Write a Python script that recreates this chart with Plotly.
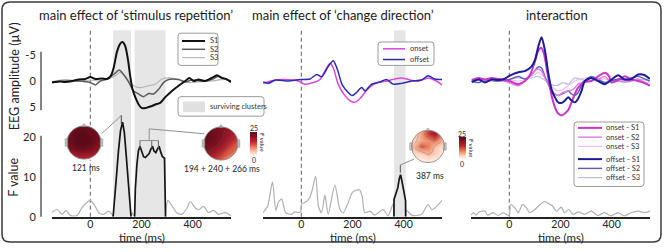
import math
import plotly.graph_objects as go

# ================= DATA =================
panel_titles = ["main effect of ‘stimulus repetition’", "main effect of ‘change direction’", "interaction"]
time_ticks = [0, 200, 400]
time_tick_labels = ["0", "200", "400"]
erp_ticks = [-5, 0, 5]
erp_tick_labels = ["-5", "0", "5"]
f_ticks = [0, 10, 20]
f_tick_labels = ["0", "10", "20"]

# --- stimulus repetition ERPs (µV, negative up) ---
rep_names = ["S1", "S2", "S3"]
rep_s1_t = [-150, -120, -98, -70, -46, -20, 0, 20, 45, 65, 80, 91, 104, 117, 126, 137, 147, 156, 165, 178, 190, 202,
            215, 228, 241, 254, 273, 293, 319, 345, 371, 387, 404, 423, 449, 475, 495, 514, 530, 550]
rep_s1_v = [0.3, 0.1, 0.2, 0.0, -0.3, -0.4, -0.75, -0.4, -0.5, -0.4, -1.0, -2.5, -5.6, -7.2, -7.5, -6.6, -4.1, -0.9,
            1.6, 3.4, 4.6, 5.2, 5.2, 5.0, 4.8, 4.5, 4.2, 3.1, 1.9, 0.9, 0.0, -0.6, 0.0, -0.3, 0.0, -0.6, -1.1, -0.6,
            -0.4, 0.2]
rep_s2_t = [-150, -98, -46, 0, 20, 39, 65, 91, 113, 130, 150, 169, 189, 208, 228, 247, 267, 286, 306, 345, 371, 397,
            436, 475, 501, 527, 550]
rep_s2_v = [0.2, 0.0, 0.0, 0.3, 0.75, 0.0, -0.4, -1.25, -2.1, -1.25, 0.2, 1.9, 2.5, 3.0, 2.4, 2.5, 1.6, 0.3, -0.3,
            -0.3, 0.2, -0.2, 0.0, -0.3, -0.9, -0.4, 0.0]
rep_s3_t = [-150, -98, -46, 0, 39, 72, 98, 117, 137, 156, 176, 202, 228, 254, 280, 306, 345, 384, 423, 475, 527, 550]
rep_s3_v = [0.1, -0.3, 0.0, -0.2, 0.0, -0.4, -1.0, -1.7, -0.9, 0.3, 1.1, 1.25, 0.9, 0.6, -0.4, -0.6, -0.3, 0.3,
            0.2, 0.0, -0.3, 0.3]

# --- change direction ERPs ---
dir_names = ["onset", "offset"]
dir_on_t = [-149, -103, -64, -12, 14, 47, 73, 99, 112, 125, 144, 170, 190, 207, 229, 248, 275, 300, 333, 366, 392,
            424, 457, 496, 528, 550]
dir_on_v = [0.45, -0.2, -0.3, 0.0, 0.6, 0.3, -0.3, -2.5, -3.4, -2.5, 0.6, 2.8, 3.75, 4.1, 3.4, 2.2, 0.9, 0.3, 0.0,
            -0.4, -0.6, -0.2, 0.0, -0.6, 0.0, 0.75]
dir_off_t = [-149, -129, -100, -51, -5, 34, 60, 79, 105, 125, 141, 160, 183, 199, 216, 236, 249, 275, 307, 333, 359,
             392, 431, 470, 496, 522, 550]
dir_off_v = [0.2, 0.45, -0.2, 0.0, -0.3, -0.4, -1.25, -0.8, -2.8, -3.9, -2.2, 0.75, 2.2, 2.8, 2.2, 1.25, 1.9, 0.6,
             0.2, -0.3, 0.6, 0.45, 0.0, -0.2, -1.0, -0.4, -0.3]

# --- interaction ERPs ---
int_names = ["onset - S1", "onset - S2", "onset - S3", "offset - S1", "offset - S2", "offset - S3"]
int_on1_t = [-147, -120, -95, -70, -43, 0, 35, 61, 80, 100, 113, 124, 135, 150, 165, 178, 191, 204, 217, 230, 243,
             256, 269, 295, 321, 347, 373, 390, 400, 425, 451, 478, 504, 530, 549]
int_on1_v = [-0.2, -0.6, -0.3, -0.6, -0.4, 0.0, 0.6, 0.0, -1.1, -3.75, -5.8, -6.4, -5.3, -1.25, 2.8, 5.0, 6.25,
             6.6, 6.25, 5.6, 4.1, 2.5, 1.25, 0.2, 0.0, -0.9, -1.6, -0.9, 0.3, -0.2, -0.9, -0.3, 0.0, 0.45, 0.9]
int_on2_t = [-147, -120, -95, -43, 0, 35, 61, 87, 110, 126, 145, 165, 178, 191, 210, 230, 250, 269, 295, 321, 347,
             373, 400, 425, 451, 478, 504, 530, 549]
int_on2_v = [0.0, -0.4, 0.0, -0.3, 0.3, 0.9, 0.0, -1.25, -2.3, -1.9, 0.0, 1.9, 2.5, 2.8, 2.2, 1.9, 1.6, 0.6, 0.0,
             -0.6, -0.3, -0.9, 0.3, 0.0, 0.2, 0.0, -0.4, 0.3, 0.8]
int_on3_t = [-147, -95, -43, 0, 35, 61, 87, 113, 130, 150, 170, 191, 210, 230, 256, 280, 310, 340, 373, 400, 430,
             460, 500, 530, 549]
int_on3_v = [-0.3, 0.0, -0.4, -0.2, 0.0, -0.3, -0.9, -1.6, -1.1, 0.0, 1.25, 1.9, 1.6, 0.9, 0.0, -0.4, -0.6, -0.2,
             -0.4, 0.0, -0.3, -0.4, -0.2, 0.2, 0.3]
int_off1_t = [-147, -120, -95, -70, -43, -20, 0, 35, 61, 87, 100, 113, 126, 139, 152, 165, 178, 191, 205, 217, 230,
              243, 256, 269, 282, 295, 321, 347, 373, 400, 425, 451, 478, 504, 530, 549]
int_off1_v = [0.2, -0.3, 0.3, -0.3, -0.2, -0.4, -1.0, -1.7, -1.9, -2.8, -4.0, -6.6, -8.4, -5.9, -1.6, 1.6, 3.1,
              4.1, 4.2, 3.75, 3.1, 3.75, 4.1, 3.4, 1.9, 0.0, -0.6, 0.0, 0.6, -0.3, -1.1, -0.3, -0.4, -1.25, -1.1,
              -0.4]
int_off2_t = [-147, -120, -95, -43, 0, 35, 61, 87, 113, 126, 139, 152, 165, 178, 191, 205, 217, 230, 243, 256, 269,
              282, 295, 321, 347, 373, 400, 425, 451, 478, 504, 530, 549]
int_off2_v = [0.0, 0.3, -0.2, 0.0, -0.3, -0.9, -0.4, -1.25, -2.7, -2.5, -0.9, 0.6, 1.9, 2.5, 2.8, 2.5, 2.2, 1.9,
              2.5, 2.8, 2.2, 0.9, 0.0, -0.9, -0.3, 0.3, 0.0, -0.4, -0.3, -0.6, -0.9, -0.4, 0.0]
int_off3_t = [-147, -95, -43, 0, 35, 61, 87, 113, 135, 160, 185, 210, 230, 256, 280, 310, 340, 373, 400, 430, 460,
              500, 530, 549]
int_off3_v = [0.0, -0.2, 0.0, -0.3, -0.6, -0.4, -0.6, -0.9, -0.3, 0.6, 0.9, 0.3, 0.6, -0.6, -0.3, 0.0, -0.4, 0.2,
              -0.3, -0.2, 0.0, -0.3, -0.2, 0.0]

# --- F values ---
rep_f_gray_t = [-150, -130, -111, -95, -78, -52, -33, -13, 0, 17, 33, 52, 72, 89, None, 159, 163, 167, 173, None,
                294, 303, 316, 338, 358, 378, 391, 410, 426, 443, 462, 482, 501, 527, 550]
rep_f_gray_v = [1.1, 1.8, 0.6, 1.6, 0.3, 0.3, 2.2, 3.6, 4.1, 2.8, 1.0, 0.6, 1.4, 0.2, None, 0.2, 1.0, 0.5, 0.2,
                None, 0.5, 4.1, 3.0, 1.0, 0.6, 2.2, 3.8, 2.2, 1.8, 2.6, 1.0, 1.6, 0.6, 1.0, 0.2]
rep_f_sig_t = [89, 95, 102, 110, 118, 126, 133, 140, 147, 153, 159, None, 173, 176, 182, 188, 194, 200, 208, 215,
               222, 230, 236, 243, 249, 256, 262, 269, 275, 282, 290, 293, 294]
rep_f_sig_v = [0, 4, 10, 16.5, 21.5, 23.6, 21, 15.5, 9.5, 4.5, 0, None, 0, 7, 13, 16.5, 17.6, 16.4, 15, 14.8,
               15.2, 15.8, 16.8, 17.6, 16.4, 16, 16.8, 17.6, 16.2, 15, 14.6, 6, 0]
dir_f_gray_t = [-150, -132, -113, -100, -90, -77, -61, -38, -25, -12, -2, 1, 20, 33, 42, 56, 67, 79, 92, 105, 131,
                151, 164, 183, 199, 214, 228, 238, 248, 268, 287, 320, 339, 359, 362, None,
                408, 411, 431, 450, 470, 496, 510, 522, 550]
dir_f_gray_v = [1.0, 2.6, 8.7, 1.6, 3.6, 4.4, 1.0, 0.6, 1.2, 1.0, 1.4, 3.2, 3.8, 4.8, 6.6, 10.1, 2.6, 1.0, 5.4,
                0.6, 7.9, 1.8, 1.0, 3.5, 6.0, 6.6, 6.7, 5.0, 1.0, 1.4, 0.4, 1.8, 0.2, 3.2, 0.5, None,
                0.5, 1.6, 0.4, 0.3, 0.6, 3.0, 1.8, 2.2, 4.1]
dir_f_sig_t = [362, 362.5, 370, 377, 383, 388, 393, 398, 404, 407.5, 408]
dir_f_sig_v = [0, 4.4, 5.8, 7.2, 9.5, 10.5, 9, 7.2, 5, 4, 0]
int_f_gray_t = [-150, -140, -130, -118, -95, -85, -63, -43, -25, -1, 5, 22, 35, 51, 67, 80, 100, 119, 138, 151,
                167, 184, 203, 216, 232, 249, 270, 294, 320, 346, 372, 398, 424, 450, 476, 502, 528, 550]
int_f_gray_v = [0.4, 1.0, 0.4, 1.2, 1.4, 0.4, 1.0, 0.3, 1.0, 0.3, 3.0, 2.2, 1.0, 3.0, 2.2, 1.0, 1.8, 3.0, 3.8, 3.4,
                2.8, 1.4, 2.4, 1.0, 1.8, 0.6, 1.2, 0.6, 1.4, 0.3, 1.0, 0.2, 1.0, 0.2, 1.0, 1.4, 1.0, 1.4]

# surviving clusters (ms)
rep_clusters = [(89, 159), (173, 294)]
dir_clusters = [(362, 408)]

# topographies (F values, rows bottom -> top)
map1_times = [121]
map2_times = [194, 240, 266]
map3_times = [387]
map_labels = ["121 ms", "194 + 240 + 266 ms", "387 ms"]
map1_z = [[15, 17, 17, 16, 14], [21, 23, 23, 22, 19], [23, 25, 25, 24, 22], [23, 25, 25, 24, 23], [22, 24, 24, 23, 22]]
map2_z = [[17, 15, 12, 9, 8], [21, 19, 16, 12, 10], [23, 22, 19, 15, 12], [24, 23, 21, 18, 15], [23, 23, 21, 19, 17]]
map3_z = [[1, 1, 2, 1, 1], [3, 4, 6, 4, 2], [6, 11, 9, 5, 3], [4, 7, 8, 10, 6], [3, 7, 14, 18, 10]]
cbar_labels = ["25", "0", "F value"]

# ================= LAYOUT HELPERS =================
W, H = 666, 252
FONT = "Lato"


def PX(x):
    return x / W


def PY(y):
    return 1 - y / H


COLS = [(52, 231), (263, 442), (471, 650)]
ERP_Y = (30, 120)
F_Y = (122, 222)
T_RANGE = [-150, 550]
ERP_ZERO_PX, ERP_PX_PER = 83, 5.333
F_PX_PER = 4.1
ERP_RANGE = [(ERP_Y[1] - ERP_ZERO_PX) / ERP_PX_PER, -(ERP_ZERO_PX - ERP_Y[0]) / ERP_PX_PER]
F_RANGE = [0, (F_Y[1] - F_Y[0]) / F_PX_PER]


def t2px(col, t):
    a, b = COLS[col]
    return a + (t - T_RANGE[0]) * (b - a) / (T_RANGE[1] - T_RANGE[0])


def axn(n):
    return ("xaxis" if n == 1 else f"xaxis{n}", "yaxis" if n == 1 else f"yaxis{n}",
            "x" if n == 1 else f"x{n}", "y" if n == 1 else f"y{n}")


fig = go.Figure()
layout = dict(width=W, height=H, autosize=False, margin=dict(l=0, r=0, t=0, b=0),
              paper_bgcolor="white", plot_bgcolor="rgba(0,0,0,0)", showlegend=False,
              font=dict(family=FONT, color="#222"))
shapes, annotations = [], []

for i, (a, b) in enumerate(COLS):
    xe, ye, _, _ = axn(i + 1)
    xf, yf, _, _ = axn(i + 4)
    layout[xe] = dict(domain=[PX(a), PX(b)], range=T_RANGE, visible=False, anchor=axn(i + 1)[3])
    layout[ye] = dict(domain=[PY(ERP_Y[1]), PY(ERP_Y[0])], range=ERP_RANGE, visible=False, anchor=axn(i + 1)[2])
    layout[xf] = dict(domain=[PX(a), PX(b)], range=T_RANGE, anchor=axn(i + 4)[3], showline=True,
                      linecolor="#222", linewidth=1.6, ticks="", tickvals=time_ticks, ticktext=time_tick_labels,
                      ticklabelstandoff=-3,
                      tickfont=dict(size=10.5, color="#222", family=FONT), showgrid=False, zeroline=False)
    layout[yf] = dict(domain=[PY(F_Y[1]), PY(F_Y[0])], range=F_RANGE, visible=False, anchor=axn(i + 4)[2])

# left y axes visible
layout["yaxis"].update(visible=True, anchor="free", position=PX(41), tickvals=erp_ticks, ticktext=erp_tick_labels,
                       ticks="outside", ticklen=3, tickcolor="rgba(0,0,0,0)", showline=False, showgrid=False,
                       zeroline=False, tickfont=dict(size=11, color="#222", family=FONT))
layout["yaxis4"].update(visible=True, anchor="free", position=PX(41), tickvals=f_ticks, ticktext=f_tick_labels,
                        ticks="outside", ticklen=3, tickcolor="rgba(0,0,0,0)", showline=False, showgrid=False,
                        zeroline=False, tickfont=dict(size=11, color="#222", family=FONT))


def add_line(t, v, n, color, width, shape="spline"):
    _, _, xr, yr = axn(n)
    fig.add_trace(go.Scatter(x=t, y=v, xaxis=xr, yaxis=yr, mode="lines", hoverinfo="skip",
                             line=dict(color=color, width=width, shape=shape,
                                       **({"smoothing": 0.7} if shape == "spline" else {}))))


# ---- ERP traces ----
rep_styles = [("#111111", 2.0), ("#5c5c5c", 1.5), ("#b3b3b3", 1.1)]
add_line(rep_s3_t, rep_s3_v, 1, *rep_styles[2])
add_line(rep_s2_t, rep_s2_v, 1, *rep_styles[1])
add_line(rep_s1_t, rep_s1_v, 1, *rep_styles[0])

dir_styles = [("#dd44dd", 1.5), ("#2a2ab0", 1.5)]
add_line(dir_on_t, dir_on_v, 2, *dir_styles[0])
add_line(dir_off_t, dir_off_v, 2, *dir_styles[1])

int_styles = [("#c935c9", 2.0), ("#dd7ddd", 1.4), ("#f0bcf0", 1.2), ("#1c1c96", 2.0), ("#5a5ab8", 1.4),
              ("#bcbcdc", 1.2)]
add_line(int_off3_t, int_off3_v, 3, *int_styles[5])
add_line(int_on3_t, int_on3_v, 3, *int_styles[2])
add_line(int_off2_t, int_off2_v, 3, *int_styles[4])
add_line(int_on2_t, int_on2_v, 3, *int_styles[1])
add_line(int_on1_t, int_on1_v, 3, *int_styles[0])
add_line(int_off1_t, int_off1_v, 3, *int_styles[3])

# ---- F traces ----
GRAY_F = "#b0b0b0"
add_line(rep_f_gray_t, rep_f_gray_v, 4, GRAY_F, 1.2)
add_line(rep_f_sig_t, rep_f_sig_v, 4, "#151515", 1.7, shape="linear")
add_line(dir_f_gray_t, dir_f_gray_v, 5, GRAY_F, 1.2)
add_line(dir_f_sig_t, dir_f_sig_v, 5, "#151515", 1.7, shape="linear")
add_line(int_f_gray_t, int_f_gray_v, 6, GRAY_F, 1.2)

# ---- cluster shading & zero lines ----
for col, clusters in [(0, rep_clusters), (1, dir_clusters)]:
    xr = axn(col + 1)[2]
    for (c0, c1) in clusters:
        shapes.append(dict(type="rect", xref=xr, yref="paper", x0=c0, x1=c1, y0=PY(F_Y[1]), y1=PY(31),
                           fillcolor="#e6e6e6", line=dict(width=0), layer="below"))
for col in range(3):
    shapes.append(dict(type="line", xref=axn(col + 1)[2], yref="paper", x0=0, x1=0, y0=PY(F_Y[1]), y1=PY(31),
                       line=dict(color="#7a7a7a", width=1.2, dash="4px,3px"), layer="below"))


def line_px(x0, y0, x1, y1, color, width, dash=None):
    d = dict(color=color, width=width)
    if dash:
        d["dash"] = dash
    shapes.append(dict(type="line", xref="paper", yref="paper", x0=PX(x0), y0=PY(y0), x1=PX(x1), y1=PY(y1),
                       line=d, layer="above"))


def text_px(x, y, txt, size, color="#222", xanchor="center", angle=0):
    annotations.append(dict(xref="paper", yref="paper", x=PX(x), y=PY(y), text=txt, showarrow=False,
                            xanchor=xanchor, yanchor="middle", textangle=angle,
                            font=dict(size=size, color=color, family=FONT)))


def rrect(x0, y0, x1, y1, r, line_color="#9a9a9a", fill="white", width=1):
    pts = [("M", x0 + r, y0), ("L", x1 - r, y0), ("Q", x1, y0, x1, y0 + r), ("L", x1, y1 - r),
           ("Q", x1, y1, x1 - r, y1), ("L", x0 + r, y1), ("Q", x0, y1, x0, y1 - r), ("L", x0, y0 + r),
           ("Q", x0, y0, x0 + r, y0)]
    s = ""
    for p in pts:
        if p[0] == "Q":
            s += f"Q{PX(p[1]):.5f},{PY(p[2]):.5f} {PX(p[3]):.5f},{PY(p[4]):.5f} "
        else:
            s += f"{p[0]}{PX(p[1]):.5f},{PY(p[2]):.5f} "
    s += "Z"
    shapes.append(dict(type="path", xref="paper", yref="paper", path=s, fillcolor=fill,
                       line=dict(color=line_color, width=width), layer="above"))


# y-axis spines (left column)
line_px(41, 53, 41, 113, "#333", 1.2)
line_px(41, 139, 41, 222, "#333", 1.2)

# ---- topographic maps ----
CS = [[0, "#fff7f3"], [0.15, "#fbd3bf"], [0.3, "#f29a7a"], [0.45, "#dc5a45"], [0.6, "#b82631"],
      [0.8, "#8a1422"], [1, "#5a0a18"]]
maps = [
    (7, map1_z, (84, 146, 17), None),
    (8, map2_z, (221, 147, 17), (250, 147, 24)),
    (9, map3_z, (428, 150, 16.5), (459, 152, 22)),
]
circ = [(2 + 2.5 * math.cos(2 * math.pi * k / 72), 2 + 2.5 * math.sin(2 * math.pi * k / 72)) for k in range(72)]
for n, z, (cx, cy, r), cb in maps:
    xa, ya, xr, yr = axn(n)
    half = 3.3 * (2 * r / 5)
    layout[xa] = dict(domain=[PX(cx - half), PX(cx + half)], range=[-1.3, 5.3], visible=False, anchor=yr)
    layout[ya] = dict(domain=[PY(cy + half), PY(cy - half)], range=[-1.3, 5.3], visible=False, anchor=xr)
    hm = dict(z=z, x=[0, 1, 2, 3, 4], y=[0, 1, 2, 3, 4], xaxis=xr, yaxis=yr, zsmooth="best", colorscale=CS,
              zmin=0, zmax=25, zauto=False, hoverinfo="skip", showscale=cb is not None)
    if cb is not None:
        bx, by, blen = cb
        hm["colorbar"] = dict(x=PX(bx), xanchor="left", y=PY(by), yanchor="middle", len=blen, lenmode="pixels",
                              thickness=7, thicknessmode="pixels", xpad=0, ypad=0, outlinewidth=0,
                              showticklabels=False, ticks="")
    fig.add_trace(go.Heatmap(**hm))
    if n != 7:
        fig.add_trace(go.Contour(z=z, x=[0, 1, 2, 3, 4], y=[0, 1, 2, 3, 4], xaxis=xr, yaxis=yr,
                                 contours=dict(coloring="none", start=5, end=20, size=5), showscale=False,
                                 line=dict(color="rgba(90,90,90,0.5)", width=0.6, smoothing=1.3),
                                 hoverinfo="skip"))
    # white mask outside the head
    path = "M-0.6,-0.6 L4.6,-0.6 L4.6,4.6 L-0.6,4.6 Z M" + " L".join(f"{px_:.4f},{py_:.4f}" for px_, py_ in circ) + " Z"
    shapes.append(dict(type="path", xref=xr, yref=yr, path=path, fillcolor="white", fillrule="evenodd",
                       line=dict(width=0), layer="above"))
    # ears and nose
    for ex0, ex1 in [(-0.75, -0.4), (4.4, 4.75)]:
        shapes.append(dict(type="rect", xref=xr, yref=yr, x0=ex0, x1=ex1, y0=1.45, y1=2.55, fillcolor="#d6d6d6",
                           line=dict(color="#8a8a8a", width=0.7), layer="above"))
    shapes.append(dict(type="path", xref=xr, yref=yr, path="M1.7,4.4 L2,4.85 L2.3,4.4 Z", fillcolor="#e0e0e0",
                       line=dict(color="#8a8a8a", width=0.7), layer="above"))
    shapes.append(dict(type="circle", xref=xr, yref=yr, x0=-0.5, x1=4.5, y0=-0.5, y1=4.5,
                       line=dict(color="#8a8a8a", width=0.9), layer="above"))

# map labels
text_px(86, 172, map_labels[0], 8.5)
text_px(222, 173, map_labels[1], 8.5)
text_px(430, 180, map_labels[2], 8.5)
# colorbar labels
text_px(253.5, 131.5, cbar_labels[0], 7)
text_px(253.5, 163.5, cbar_labels[1], 7)
text_px(262.5, 146, cbar_labels[2], 6, angle=90)
text_px(462, 137, cbar_labels[0], 7)
text_px(462, 168, cbar_labels[1], 7)
text_px(471.5, 152, cbar_labels[2], 6, angle=90)

# connectors from maps to F peaks
CONN = "#8f8f8f"
p1 = t2px(0, map1_times[0])
line_px(p1, 118, p1, 127, "#444", 1)
line_px(101.5, 137, p1, 118.5, CONN, 1)
b0, bm, b1 = t2px(0, map2_times[0]), t2px(0, sum(map2_times[::2]) / 2), t2px(0, map2_times[-1])
line_px(b0, 144, b1, 144, CONN, 1)
for tt in map2_times:
    line_px(t2px(0, tt), 144, t2px(0, tt), 152, "#666", 1)
line_px(bm, 144, bm, 132, CONN, 1)
line_px(bm, 132, 204, 137, CONN, 1)
p3 = t2px(1, map3_times[0])
line_px(p3, 169, p3, 177, "#555", 1)
line_px(p3, 169, 414, 163, CONN, 1)

# ---- legends ----
LT = 7.5
rrect(178, 34, 218, 67, 3)
for k, yy in enumerate([42, 50.5, 59]):
    line_px(182, yy, 205, yy, rep_styles[k][0], rep_styles[k][1])
    text_px(208, yy, rep_names[k], LT, color="#333", xanchor="left")
rrect(178, 99, 264, 119, 3)
shapes.append(dict(type="rect", xref="paper", yref="paper", x0=PX(183), x1=PX(205), y0=PY(115), y1=PY(104),
                   fillcolor="#e0e0e0", line=dict(width=0), layer="above"))
text_px(208, 109.5, "surviving clusters", LT, color="#333", xanchor="left")
rrect(378, 43, 434, 67, 3)
for k, yy in enumerate([50, 61]):
    line_px(383, yy, 405, yy, dir_styles[k][0], dir_styles[k][1])
    text_px(408, yy, dir_names[k], LT, color="#333", xanchor="left")
rrect(574, 125, 644, 191, 3)
for k, yy in enumerate([131, 140.5, 150, 163, 172.5, 182]):
    line_px(578, yy, 602, yy, int_styles[k][0], int_styles[k][1])
    text_px(604, yy, int_names[k], LT, color="#333", xanchor="left")

# ---- titles / axis titles ----
for k, cx in enumerate([135.5, 343, 557]):
    text_px(cx, 15.5, panel_titles[k], 13, color="#1a1a1a")
for col in range(3):
    annotations.append(dict(xref=axn(col + 4)[2], yref="paper", x=200, y=PY(243.5), text="time (ms)",
                            showarrow=False, xanchor="center", yanchor="middle",
                            font=dict(size=11.5, color="#222", family=FONT)))
text_px(14, 78, "EEG amplitude (µV)", 12.5, angle=-90)
text_px(14, 182, "F value", 12.5, angle=-90)

# outer frame
rrect(2, 2, 661, 248, 8, line_color="#3a3a3a", fill="rgba(0,0,0,0)", width=1.5)

layout["shapes"] = shapes
layout["annotations"] = annotations
fig.update_layout(**layout)
fig.write_html("out.html", config={"displayModeBar": False},
               post_script="document.body.style.margin='0';")
